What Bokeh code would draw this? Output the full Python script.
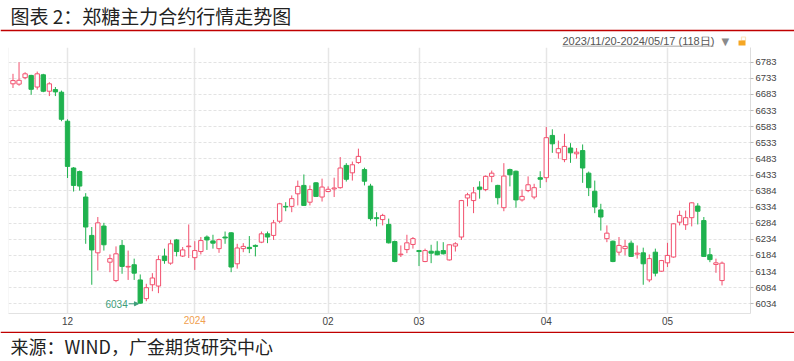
import pandas as pd
from bokeh.plotting import figure
from bokeh.layouts import column
from bokeh.models import (FixedTicker, Label, BoxAnnotation, Arrow, NormalHead,
                          ColumnDataSource, Range1d, LinearAxis, Span)
from bokeh.embed import file_html
from bokeh.resources import INLINE

# ---- data ----
opens = [6716, 6715, 6735, 6742, 6706, 6744, 6693, 6698, 6690, 6600,
         6455, 6444, 6365, 6246, 6192, 6275, 6163, 6106, 6215, 6148,
         6155, 6108, 6050, 6093, 6089, 6182, 6160, 6232, 6182, 6211,
         6177, 6196, 6241, 6229, 6205, 6241, 6254, 6158, 6205, 6209,
         6215, 6225, 6251, 6246, 6290, 6336, 6336, 6375, 6401, 6349,
         6409, 6365, 6382, 6390, 6394, 6463, 6440, 6472, 6450, 6399,
         6301, 6295, 6280, 6227, 6186, 6202, 6218, 6199, 6165, 6197,
         6197, 6199, 6170, 6213, 6241, 6362, 6354, 6396, 6388, 6429,
         6401, 6332, 6450, 6445, 6356, 6385, 6365, 6425, 6425, 6556,
         6502, 6481, 6517, 6499, 6509, 6439, 6383, 6325, 6236, 6228,
         6194, 6205, 6222, 6188, 6192, 6108, 6194, 6135, 6161, 6179,
         6287, 6279, 6301, 6337, 6292, 6186, 6156, 6106]
highs = [6747, 6783, 6752, 6744, 6754, 6747, 6721, 6706, 6695, 6606,
         6458, 6447, 6377, 6272, 6303, 6285, 6187, 6212, 6232, 6199,
         6174, 6125, 6096, 6129, 6184, 6205, 6232, 6235, 6210, 6280,
         6228, 6241, 6246, 6248, 6236, 6258, 6256, 6220, 6222, 6244,
         6218, 6258, 6258, 6294, 6347, 6349, 6370, 6416, 6435, 6401,
         6411, 6422, 6398, 6425, 6489, 6470, 6475, 6515, 6456, 6406,
         6318, 6313, 6298, 6230, 6215, 6248, 6241, 6201, 6205, 6217,
         6228, 6225, 6218, 6225, 6356, 6378, 6396, 6414, 6432, 6447,
         6403, 6470, 6453, 6447, 6388, 6429, 6406, 6445, 6582, 6575,
         6540, 6561, 6532, 6517, 6528, 6444, 6416, 6344, 6277, 6230,
         6241, 6232, 6230, 6215, 6208, 6187, 6205, 6170, 6223, 6284,
         6323, 6323, 6349, 6346, 6303, 6207, 6174, 6165]
lows = [6703, 6710, 6730, 6682, 6698, 6690, 6678, 6678, 6600, 6424,
        6382, 6385, 6220, 6093, 6137, 6199, 6132, 6101, 6127, 6108,
        6108, 6034, 6042, 6073, 6067, 6158, 6155, 6181, 6179, 6176,
        6139, 6187, 6201, 6205, 6192, 6220, 6132, 6143, 6194, 6191,
        6181, 6222, 6222, 6232, 6284, 6321, 6318, 6339, 6338, 6339,
        6365, 6351, 6380, 6365, 6391, 6413, 6416, 6468, 6401, 6292,
        6274, 6277, 6221, 6163, 6179, 6191, 6205, 6151, 6163, 6160,
        6184, 6187, 6168, 6196, 6232, 6336, 6315, 6360, 6383, 6411,
        6342, 6321, 6398, 6332, 6351, 6380, 6358, 6393, 6411, 6502,
        6484, 6473, 6471, 6484, 6409, 6368, 6315, 6261, 6225, 6163,
        6184, 6184, 6179, 6174, 6093, 6101, 6119, 6133, 6148, 6177,
        6277, 6263, 6274, 6280, 6179, 6163, 6130, 6091]
closes = [6726, 6727, 6747, 6699, 6747, 6693, 6716, 6691, 6606, 6460,
          6401, 6399, 6272, 6201, 6285, 6217, 6174, 6189, 6150, 6150,
          6129, 6036, 6084, 6114, 6171, 6168, 6220, 6196, 6201, 6213,
          6199, 6230, 6232, 6222, 6233, 6238, 6148, 6207, 6212, 6205,
          6212, 6251, 6241, 6285, 6344, 6334, 6360, 6398, 6339, 6388,
          6367, 6396, 6389, 6393, 6455, 6420, 6465, 6491, 6414, 6298,
          6298, 6308, 6223, 6165, 6188, 6223, 6236, 6196, 6199, 6191,
          6186, 6189, 6217, 6220, 6354, 6372, 6378, 6389, 6429, 6439,
          6363, 6430, 6434, 6356, 6367, 6403, 6394, 6420, 6549, 6530,
          6515, 6522, 6502, 6504, 6455, 6394, 6334, 6303, 6253, 6165,
          6215, 6212, 6181, 6191, 6158, 6174, 6129, 6168, 6184, 6282,
          6308, 6301, 6347, 6321, 6181, 6171, 6161, 6160]

holidays = ["2024-01-01", "2024-02-09", "2024-02-12", "2024-02-13", "2024-02-14",
            "2024-02-15", "2024-02-16", "2024-04-04", "2024-04-05",
            "2024-05-01", "2024-05-02", "2024-05-03"]
dates = [d for d in pd.bdate_range("2023-11-20", "2024-05-17")
         if d.strftime("%Y-%m-%d") not in holidays]

month_labels = ["12", "2024", "02", "03", "04", "05"]
y_ticks = [6034, 6084, 6134, 6184, 6234, 6284, 6334, 6384, 6433, 6483,
           6533, 6583, 6633, 6683, 6733, 6783]
title_text = "图表 2：郑糖主力合约行情走势图"
source_text = "来源：WIND，广金期货研究中心"
range_text = "2023/11/20-2024/05/17 (118日)"

RED = "#f2506e"
GREEN = "#1fb24e"
DARKRED = "#c00000"
W = 794

n = len(opens)
idx = list(range(n))
up = [c >= o for o, c in zip(opens, closes)]
src = ColumnDataSource(dict(
    x=idx, o=opens, h=highs, l=lows, c=closes,
    top=[max(o, c) for o, c in zip(opens, closes)],
    bottom=[min(o, c) for o, c in zip(opens, closes)],
    col=[RED if u else GREEN for u in up],
    fill=["#ffffff" if u else GREEN for u in up],
))

# month tick positions: first trading day of each new month
month_idx = [i for i in range(1, len(dates)) if dates[i].month != dates[i - 1].month]
year_tick = month_idx[month_labels.index("2024")]


def no_align(f):
    try:
        f.frame_align = False
    except Exception:
        pass


def deco_fig(h):
    f = figure(width=W, height=h, x_range=Range1d(0, W), y_range=Range1d(h, 0),
               x_axis_type=None, y_axis_type=None, min_border=0,
               output_backend="svg", toolbar_location=None)
    f.outline_line_color = None
    f.grid.visible = False
    f.background_fill_color = "#ffffff"
    f.border_fill_color = "#ffffff"
    no_align(f)
    return f


def hbar(f, x0, x1, y0, y1, color, alpha=1):
    f.add_layout(BoxAnnotation(left=x0, right=x1, top=y0, bottom=y1,
                               fill_color=color, fill_alpha=alpha, line_color=None))


# ---- top strip: title, rule, range legend ----
top = deco_fig(47)
top.add_layout(Label(x=10, y=15, text=title_text, text_baseline="middle",
                     text_font="Noto Sans CJK SC", text_font_size="19px",
                     text_color="#222222"))
hbar(top, 0, W, 29.3, 30.8, DARKRED)
top.add_layout(Label(x=562, y=40.5, text=range_text, text_baseline="middle",
                     text_font="Liberation Sans", text_font_size="11px",
                     text_color="#555555"))
hbar(top, 562, 713, 45.3, 46.1, "#888888")
top.add_layout(Label(x=721, y=40.5, text="▼", text_baseline="middle",
                     text_font="DejaVu Sans", text_font_size="10px",
                     text_color="#8a8a8a"))
hbar(top, 738, 745, 40, 45, "#f5a623")
top.add_layout(BoxAnnotation(left=741, right=745, top=36.5, bottom=40,
                             fill_color=None, fill_alpha=0, line_color="#f5a623",
                             line_width=1.2))

# ---- main chart ----
p = figure(width=W, height=284, x_range=Range1d(-0.74, 121.7),
           y_range=Range1d(6003.9, 6828.6), y_axis_location="right",
           output_backend="svg", toolbar_location=None,
           min_border_left=8, min_border_right=44, min_border_top=0,
           min_border_bottom=18)
p.outline_line_color = None
p.background_fill_color = "#ffffff"
p.border_fill_color = "#ffffff"
no_align(p)

xa = p.xaxis[0]
xa.ticker = FixedTicker(ticks=month_idx)
xa.major_label_overrides = {m: ("" if m == year_tick else lab)
                            for m, lab in zip(month_idx, month_labels)}
xa.axis_line_color = "#e2e2e2"
xa.major_tick_line_color = None
xa.major_tick_out = 0
xa.major_tick_in = 0
xa.minor_tick_line_color = None
xa.major_label_text_font = "Liberation Sans"
xa.major_label_text_font_size = "10px"
xa.major_label_text_color = "#444444"
xa.major_label_standoff = 3

xa2 = LinearAxis(ticker=FixedTicker(ticks=[year_tick]),
                 major_label_overrides={year_tick: "2024"},
                 axis_line_color=None, major_tick_line_color=None,
                 minor_tick_line_color=None, major_tick_out=0, major_tick_in=0,
                 major_label_text_font="Liberation Sans",
                 major_label_text_font_size="10px",
                 major_label_text_color="#f0a050", major_label_standoff=-12)
p.add_layout(xa2, "below")

ya = p.yaxis[0]
ya.ticker = FixedTicker(ticks=y_ticks)
ya.axis_line_color = "#dddddd"
ya.major_tick_in = 0
ya.major_tick_out = 3
ya.major_tick_line_color = "#bbbbbb"
ya.minor_tick_line_color = None
ya.major_label_text_font = "Liberation Sans"
ya.major_label_text_font_size = "9.5px"
ya.major_label_text_color = "#444444"
ya.major_label_standoff = 2

p.xgrid.ticker = FixedTicker(ticks=month_idx)
p.xgrid.grid_line_color = "#e6e6e6"
p.xgrid.grid_line_width = 1.5
p.ygrid.grid_line_color = "#e3e3e3"
p.ygrid.grid_line_dash = "3 2"

# faint left frame edge
p.add_layout(Span(location=p.x_range.start, dimension="height",
                  line_color="#efefef", line_width=1))

# candles
p.segment(x0="x", y0="h", x1="x", y1="l", source=src, line_color="col", line_width=1)
p.vbar(x="x", width=0.72, top="top", bottom="bottom", source=src,
       fill_color="fill", line_color="col", line_width=1)

# low annotation
imin = lows.index(min(lows))
lmin = lows[imin]
p.add_layout(Arrow(x_start=imin - 1.9, y_start=lmin, x_end=imin - 0.3, y_end=lmin,
                   line_color="#3d9c79", line_width=1,
                   end=NormalHead(size=4, fill_color="#3d9c79", line_color="#3d9c79")))
p.add_layout(Label(x=imin - 1.9, y=lmin, x_offset=-1, text=str(lmin),
                   text_align="right", text_baseline="middle",
                   text_font="Liberation Sans", text_font_size="10px",
                   text_color="#3d9c79"))

# ---- bottom strip: rule and source ----
bot = deco_fig(30)
hbar(bot, 0, W, 0, 1.5, DARKRED)
bot.add_layout(Label(x=10, y=14, text=source_text, text_baseline="middle",
                     text_font="Noto Sans CJK SC", text_font_size="18px",
                     text_color="#222222"))

layout = column(top, p, bot, spacing=0)
open("out.html", "w").write(file_html(layout, INLINE))
